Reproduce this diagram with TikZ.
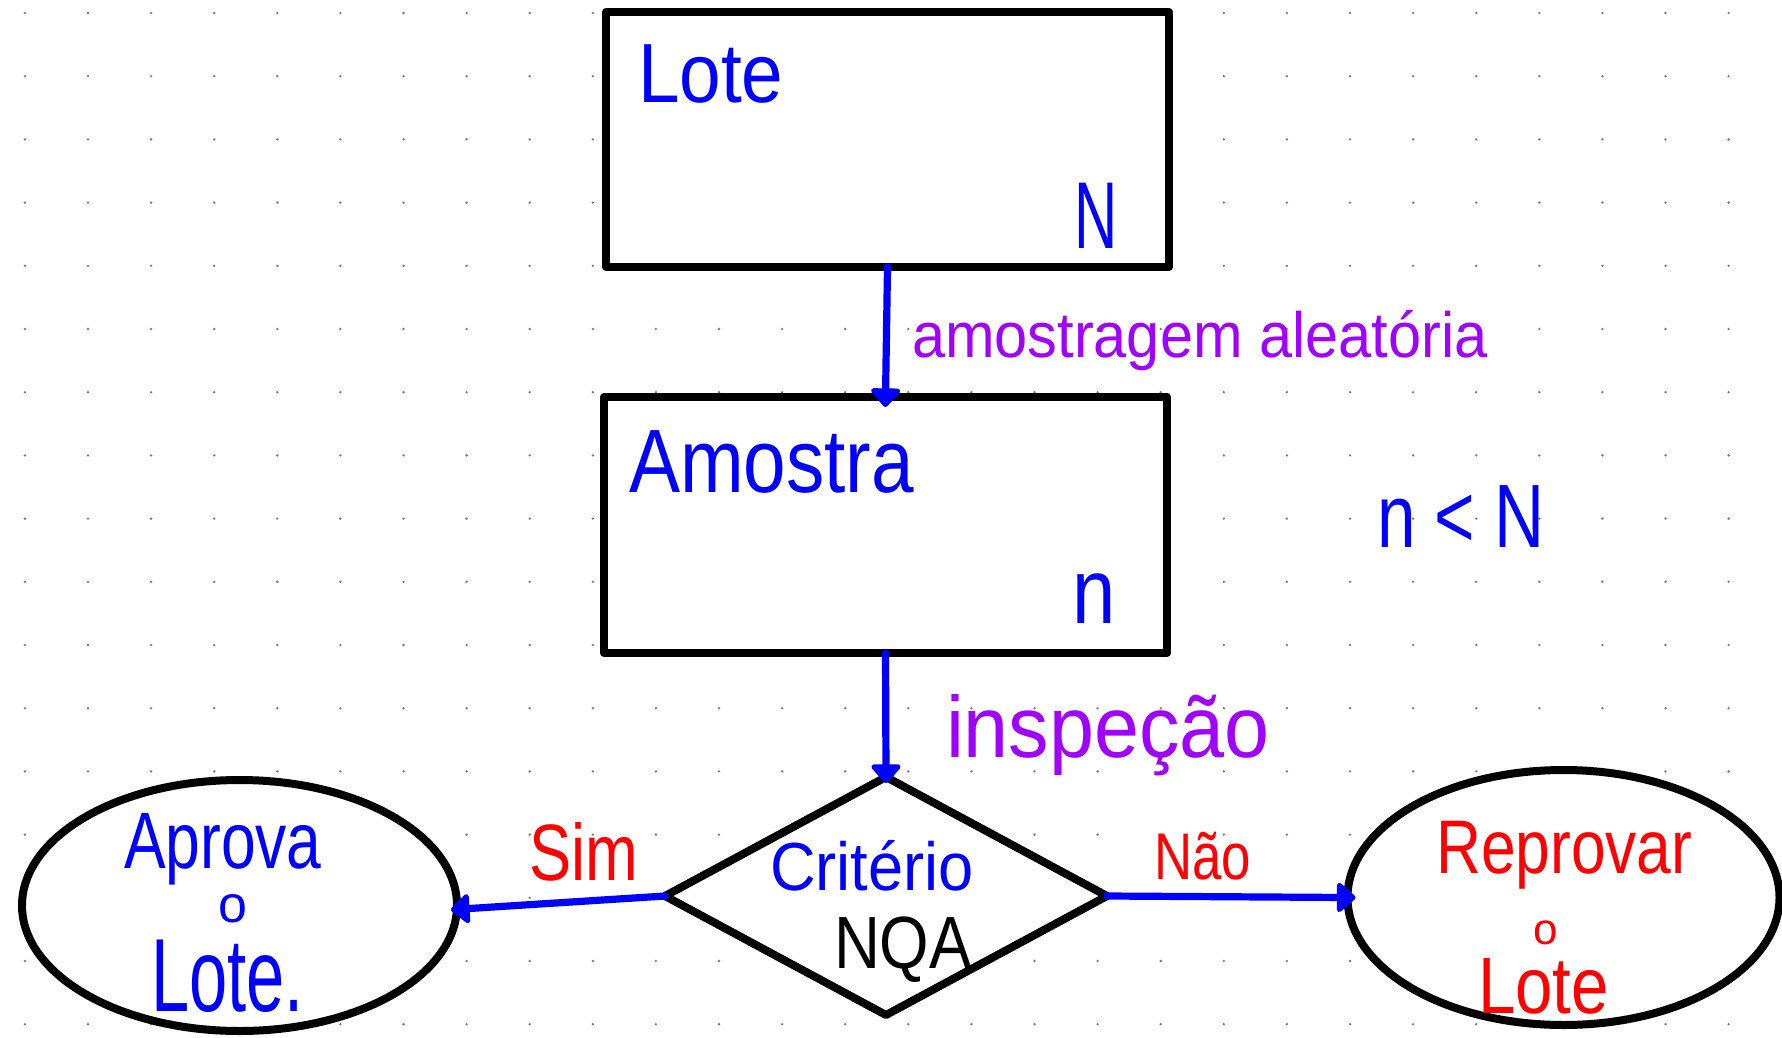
\documentclass[tikz,border=0pt]{standalone}
\usepackage{fontspec}
\usepackage{graphicx}
\setmainfont{Liberation Sans}
\usetikzlibrary{shapes.geometric,arrows.meta}
\definecolor{inkblue}{RGB}{0,0,255}
\definecolor{inkpurple}{RGB}{160,0,255}
\definecolor{inkred}{RGB}{255,0,0}
\definecolor{dotgray}{RGB}{120,120,120}
\newcommand\hw[3]{\scalebox{#1}[1]{\fontsize{#2}{#2}\selectfont #3}}
\begin{document}
\begin{tikzpicture}[x=0.5pt,y=-0.5pt,
  shapeline/.style={draw=black,line width=4pt,fill=white,line join=round,inner sep=0pt,outer sep=0pt},
  boxshape/.style={shapeline,rectangle,minimum width=281.5pt,minimum height=127.5pt},
  conn/.style={draw=inkblue,line width=3.6pt,line cap=round,
    -{Triangle[width=17pt,length=10pt,round]}},
  lbl/.style={anchor=base west,inner sep=0pt,outer sep=0pt}]
\useasboundingbox (0,0) rectangle (1782,1038);
\fill[white] (0,0) rectangle (1782,1038);
% dot grid
\foreach \i in {0,...,27}{
  \foreach \j in {0,...,16}{
    \fill[dotgray] ({24.9+63.1*\i},{13+63.2*\j}) circle[radius=0.65pt];
  }
}
% shapes
\node[boxshape] (lote) at (887.5,139.5) {};
\node[boxshape,minimum height=128pt] (amostra) at (885.5,525) {};
\node[shapeline,diamond,minimum width=221pt,minimum height=119pt] (crit) at (886,896) {};
\node[shapeline,ellipse,minimum width=217.5pt,minimum height=125.5pt] (aprova) at (239.5,905.5) {};
\node[shapeline,ellipse,minimum width=216pt,minimum height=127.5pt] (reprova) at (1563.5,897.5) {};
% connectors
\draw[conn,shorten >=-5pt] (lote.south) -- (amostra.north);
\draw[conn,shorten >=-3pt] (amostra.south) -- (crit.north);
\draw[conn,shorten >=-3pt] (crit.west) -- (aprova.-1.5);
\draw[conn,shorten >=-4pt] (crit.east) -- (reprova.west);
% texts
\node[lbl,text=inkblue] (tlote) at (638,103) {\hw{0.89}{42pt}{Lote}};
\node[lbl,text=inkblue] (tN) at (1074,248) {\hw{0.63}{47.5pt}{N}};
\node[lbl,text=inkpurple] (tamost) at (912,357) {\hw{0.93}{32pt}{amostragem aleatória}};
\node[lbl,text=inkblue] (tamostra) at (629,492) {\hw{0.85}{45pt}{Amostra}};
\node[lbl,text=inkblue] (tn) at (1072,623) {\hw{0.84}{46.25pt}{n}};
\node[lbl,text=inkblue] (tnN) at (1377,547) {\hw{0.77}{45pt}{n < N}};
\node[lbl,text=inkpurple] (tinsp) at (946,757) {\hw{0.93}{43.5pt}{inspeção}};
\node[lbl,text=inkred] (tsim) at (529,880) {\hw{0.79}{40pt}{Sim}};
\node[lbl,text=inkblue] (tcrit) at (770,890) {\hw{0.93}{34pt}{Critério}};
\node[lbl,text=black] (tnqa) at (834,968) {\hw{0.86}{37pt}{NQA}};
\node[lbl,text=inkred] (tnao) at (1154,879) {\hw{0.8}{33pt}{Não}};
\node[lbl,text=inkblue] (tapr1) at (124,868) {\hw{0.78}{40pt}{Aprova}};
\node[lbl,text=inkblue] (tapr2) at (218,922) {\hw{1}{26pt}{o}};
\node[lbl,text=inkblue] (tapr3) at (151,1011) {\hw{0.66}{52pt}{Lote.}};
\node[lbl,text=inkred] (trep1) at (1436,873) {\hw{0.82}{38pt}{Reprovar}};
\node[lbl,text=inkred] (trep2) at (1533,944) {\hw{1}{22pt}{o}};
\node[lbl,text=inkred] (trep3) at (1478,1013) {\hw{0.84}{40pt}{Lote}};
\end{tikzpicture}
\end{document}
